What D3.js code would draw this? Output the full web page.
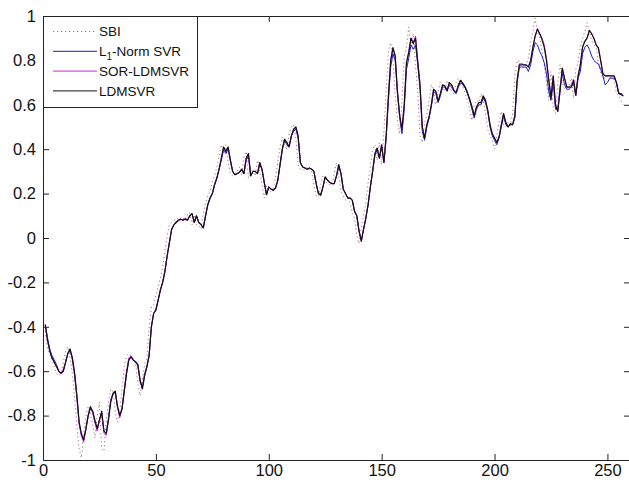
<!DOCTYPE html>
<html>
<head>
<meta charset="utf-8">
<script src="https://cdn.jsdelivr.net/npm/d3@7"></script>
<style>
  html, body { margin: 0; padding: 0; background: #fff; }
  svg { display: block; }
  text { font-family: "Liberation Sans", Arial, Helvetica, sans-serif; }
</style>
</head>
<body>
<svg id="chart" width="629" height="484"></svg>
<script>
// Series names shown in the legend
const seriesNames = ["SBI", "L1-Norm SVR", "SOR-LDMSVR", "LDMSVR"];

// Observed index (SBI), one value per trading day
const sbi = [
  -0.42,-0.50,-0.52,-0.55,-0.58,-0.61,-0.62,-0.61,-0.56,-0.51,
  -0.49,-0.54,-0.61,-0.72,-0.85,-0.95,-0.99,-0.88,-0.80,-0.76,
  -0.79,-0.84,-0.90,-0.80,-0.74,-0.95,-0.96,-0.82,-0.74,-0.68,
  -0.69,-0.78,-0.83,-0.78,-0.68,-0.58,-0.53,-0.52,-0.53,-0.545,
  -0.56,-0.66,-0.71,-0.64,-0.57,-0.54,-0.40,-0.31,-0.30,-0.26,
  -0.22,-0.18,-0.13,-0.06,0.01,0.06,0.07,0.08,0.085,0.09,
  0.08,0.09,0.08,0.105,0.115,0.06,0.105,0.06,0.055,0.04,
  0.11,0.16,0.19,0.21,0.25,0.28,0.32,0.37,0.42,0.38,
  0.42,0.34,0.29,0.28,0.29,0.30,0.32,0.28,0.37,0.39,
  0.27,0.31,0.30,0.28,0.35,0.30,0.24,0.18,0.235,0.215,
  0.21,0.225,0.27,0.34,0.41,0.455,0.42,0.40,0.47,0.50,
  0.51,0.45,0.33,0.31,0.31,0.305,0.32,0.305,0.30,0.235,
  0.19,0.185,0.24,0.28,0.255,0.245,0.24,0.24,0.29,0.34,
  0.28,0.21,0.19,0.17,0.18,0.16,0.11,0.09,0.01,-0.025,
  0.05,0.10,0.16,0.25,0.32,0.40,0.42,0.35,0.43,0.33,
  0.48,0.67,0.84,0.88,0.81,0.64,0.53,0.47,0.62,0.82,
  0.86,0.95,0.88,0.92,0.78,0.66,0.46,0.43,0.52,0.55,
  0.62,0.69,0.66,0.60,0.66,0.70,0.68,0.66,0.71,0.69,
  0.66,0.65,0.70,0.72,0.69,0.68,0.65,0.62,0.58,0.53,
  0.60,0.62,0.61,0.65,0.62,0.56,0.49,0.46,0.44,0.40,
  0.46,0.52,0.57,0.51,0.50,0.52,0.505,0.56,0.73,0.80,
  0.795,0.79,0.78,0.78,0.81,0.88,0.93,0.99,0.93,0.90,
  0.84,0.78,0.70,0.62,0.75,0.58,0.56,0.69,0.78,0.70,
  0.67,0.68,0.69,0.72,0.63,0.76,0.79,0.86,0.90,0.93,
  0.97,0.93,0.89,0.87,0.86,0.79,0.74,0.72,0.72,0.73,
  0.72,0.725,0.71,0.65,0.64,0.62,0.60
];

// L1-Norm SVR forecast
const l1NormSvr = [
  -0.39,-0.45,-0.50,-0.53,-0.55,-0.57,-0.60,-0.61,-0.60,-0.56,
  -0.52,-0.51,-0.54,-0.61,-0.71,-0.83,-0.89,-0.91,-0.86,-0.80,
  -0.77,-0.78,-0.83,-0.86,-0.82,-0.79,-0.87,-0.88,-0.81,-0.73,
  -0.70,-0.69,-0.76,-0.80,-0.77,-0.69,-0.61,-0.55,-0.535,-0.55,
  -0.555,-0.57,-0.64,-0.68,-0.62,-0.58,-0.53,-0.40,-0.34,-0.325,
  -0.28,-0.235,-0.20,-0.15,-0.08,-0.02,0.04,0.06,0.07,0.08,
  0.085,0.08,0.085,0.08,0.10,0.11,0.07,0.10,0.07,0.06,
  0.045,0.10,0.15,0.18,0.20,0.24,0.27,0.31,0.35,0.40,
  0.38,0.40,0.35,0.30,0.285,0.29,0.295,0.31,0.29,0.35,
  0.37,0.28,0.30,0.30,0.29,0.33,0.31,0.25,0.195,0.23,
  0.22,0.215,0.225,0.26,0.33,0.40,0.44,0.42,0.41,0.46,
  0.48,0.49,0.45,0.34,0.32,0.315,0.31,0.315,0.31,0.30,
  0.245,0.20,0.19,0.23,0.275,0.26,0.25,0.245,0.245,0.28,
  0.32,0.29,0.22,0.20,0.18,0.18,0.17,0.12,0.10,0.03,
  -0.01,0.04,0.09,0.15,0.23,0.30,0.37,0.40,0.36,0.41,
  0.34,0.45,0.62,0.77,0.83,0.80,0.65,0.54,0.47,0.58,
  0.76,0.81,0.87,0.85,0.87,0.78,0.67,0.48,0.44,0.50,
  0.54,0.59,0.66,0.65,0.61,0.64,0.68,0.68,0.66,0.69,
  0.68,0.66,0.65,0.68,0.70,0.69,0.675,0.65,0.62,0.58,
  0.54,0.58,0.60,0.60,0.63,0.61,0.57,0.50,0.46,0.44,
  0.42,0.45,0.50,0.55,0.51,0.50,0.51,0.51,0.54,0.70,
  0.77,0.77,0.77,0.77,0.75,0.78,0.84,0.88,0.87,0.84,
  0.82,0.79,0.74,0.66,0.62,0.70,0.58,0.58,0.68,0.74,
  0.69,0.67,0.67,0.68,0.70,0.64,0.72,0.75,0.83,0.86,
  0.87,0.85,0.82,0.80,0.79,0.785,0.76,0.73,0.69,0.70,
  0.72,0.72,0.72,0.70,0.65,0.645,0.64
];

// SOR-LDMSVR forecast
const sorLdmsvr = [
  -0.39,-0.46,-0.51,-0.54,-0.56,-0.58,-0.60,-0.61,-0.59,-0.56,
  -0.52,-0.50,-0.55,-0.62,-0.72,-0.84,-0.89,-0.92,-0.86,-0.80,
  -0.76,-0.79,-0.83,-0.87,-0.82,-0.79,-0.88,-0.89,-0.82,-0.73,
  -0.70,-0.70,-0.76,-0.81,-0.77,-0.68,-0.60,-0.54,-0.53,-0.55,
  -0.56,-0.57,-0.65,-0.67,-0.61,-0.58,-0.53,-0.40,-0.34,-0.32,
  -0.28,-0.23,-0.20,-0.15,-0.08,-0.02,0.04,0.06,0.075,0.08,
  0.085,0.08,0.09,0.08,0.10,0.11,0.07,0.10,0.07,0.06,
  0.045,0.10,0.15,0.18,0.20,0.24,0.27,0.31,0.36,0.41,
  0.39,0.41,0.35,0.30,0.285,0.29,0.30,0.31,0.29,0.36,
  0.38,0.28,0.30,0.30,0.29,0.34,0.31,0.25,0.195,0.23,
  0.22,0.215,0.225,0.26,0.33,0.40,0.445,0.43,0.41,0.46,
  0.49,0.50,0.46,0.34,0.32,0.315,0.31,0.315,0.31,0.30,
  0.245,0.20,0.195,0.23,0.275,0.26,0.25,0.245,0.245,0.28,
  0.33,0.29,0.22,0.20,0.18,0.18,0.17,0.12,0.10,0.03,
  -0.015,0.04,0.09,0.15,0.23,0.30,0.38,0.405,0.36,0.42,
  0.34,0.46,0.64,0.80,0.86,0.82,0.66,0.55,0.49,0.60,
  0.79,0.84,0.90,0.88,0.91,0.80,0.69,0.50,0.45,0.51,
  0.545,0.60,0.67,0.66,0.615,0.65,0.69,0.685,0.665,0.70,
  0.69,0.665,0.655,0.69,0.71,0.70,0.68,0.655,0.625,0.59,
  0.55,0.59,0.61,0.61,0.64,0.62,0.575,0.51,0.47,0.45,
  0.43,0.455,0.51,0.56,0.52,0.50,0.515,0.51,0.55,0.71,
  0.785,0.785,0.78,0.78,0.77,0.80,0.86,0.91,0.945,0.92,
  0.90,0.87,0.81,0.72,0.64,0.73,0.60,0.57,0.66,0.765,
  0.72,0.68,0.68,0.69,0.715,0.645,0.73,0.78,0.86,0.89,
  0.90,0.935,0.92,0.90,0.87,0.86,0.80,0.74,0.73,0.73,
  0.73,0.73,0.73,0.70,0.655,0.65,0.64
];

// LDMSVR forecast
const ldmsvr = [
  -0.39,-0.46,-0.51,-0.54,-0.56,-0.58,-0.60,-0.61,-0.60,-0.56,
  -0.52,-0.50,-0.54,-0.61,-0.71,-0.83,-0.88,-0.91,-0.86,-0.80,
  -0.76,-0.78,-0.82,-0.86,-0.82,-0.78,-0.87,-0.88,-0.82,-0.74,
  -0.70,-0.69,-0.76,-0.80,-0.77,-0.69,-0.61,-0.55,-0.535,-0.55,
  -0.56,-0.57,-0.64,-0.68,-0.62,-0.58,-0.53,-0.40,-0.34,-0.325,
  -0.28,-0.235,-0.20,-0.15,-0.08,-0.02,0.04,0.06,0.07,0.08,
  0.085,0.08,0.085,0.08,0.10,0.11,0.07,0.10,0.07,0.06,
  0.045,0.10,0.15,0.18,0.20,0.24,0.27,0.31,0.36,0.41,
  0.39,0.41,0.35,0.30,0.285,0.29,0.295,0.31,0.29,0.36,
  0.38,0.28,0.30,0.30,0.29,0.34,0.31,0.25,0.195,0.23,
  0.22,0.215,0.225,0.26,0.33,0.40,0.445,0.43,0.41,0.46,
  0.49,0.50,0.46,0.34,0.32,0.315,0.31,0.315,0.31,0.30,
  0.245,0.20,0.195,0.23,0.275,0.26,0.25,0.245,0.245,0.28,
  0.33,0.29,0.22,0.20,0.18,0.18,0.17,0.12,0.10,0.03,
  -0.015,0.04,0.09,0.15,0.23,0.30,0.38,0.405,0.36,0.42,
  0.34,0.46,0.64,0.80,0.855,0.82,0.66,0.55,0.49,0.60,
  0.79,0.835,0.90,0.875,0.90,0.79,0.69,0.50,0.45,0.51,
  0.545,0.60,0.67,0.66,0.615,0.65,0.69,0.685,0.665,0.70,
  0.69,0.665,0.655,0.69,0.71,0.695,0.68,0.655,0.625,0.59,
  0.55,0.59,0.61,0.61,0.64,0.62,0.575,0.51,0.47,0.45,
  0.43,0.455,0.51,0.56,0.52,0.50,0.515,0.51,0.55,0.71,
  0.78,0.78,0.78,0.78,0.77,0.80,0.86,0.91,0.94,0.92,
  0.895,0.86,0.80,0.71,0.63,0.73,0.60,0.57,0.66,0.765,
  0.72,0.68,0.68,0.68,0.71,0.645,0.73,0.78,0.86,0.885,
  0.90,0.935,0.92,0.90,0.87,0.855,0.80,0.74,0.73,0.73,
  0.73,0.73,0.73,0.70,0.65,0.65,0.64
];

// Axis ticks
const xTicks = [0, 50, 100, 150, 200, 250];
const yTicks = [-1, -0.8, -0.6, -0.4, -0.2, 0, 0.2, 0.4, 0.6, 0.8, 1];

const svg = d3.select("#chart");
const W = 629, H = 484;
const plot = { left: 43, right: 630, top: 16, bottom: 460 };

svg.append("rect").attr("width", W).attr("height", H).attr("fill", "#fff");

const x = d3.scaleLinear().domain([0, 260]).range([plot.left, plot.right]);
const y = d3.scaleLinear().domain([-1, 1]).range([plot.bottom, plot.top]);

const fmt = d => String(+d.toFixed(1));

// Lines: drawn first so the axes box sits on top
const line = d3.line().x((d, i) => x(i + 1)).y(d => y(d));

const series = [
  { name: seriesNames[0], values: sbi,       color: "#a07a70", dash: "1.2,2.8", width: 1 },
  { name: seriesNames[1], values: l1NormSvr, color: "#1c1cc8", dash: null,      width: 1 },
  { name: seriesNames[2], values: sorLdmsvr, color: "#e020e0", dash: null,      width: 1 },
  { name: seriesNames[3], values: ldmsvr,    color: "#111111", dash: null,      width: 1.2 }
];

const lines = svg.append("g");
series.forEach(s => {
  lines.append("path")
    .datum(s.values)
    .attr("d", line)
    .attr("fill", "none")
    .attr("stroke", s.color)
    .attr("stroke-width", s.width)
    .attr("stroke-dasharray", s.dash)
    .attr("stroke-linejoin", "round");
});

// Axes with inward ticks on all four sides
const axisColor = "#222";
function styleAxis(g) {
  g.select(".domain").remove();
  g.selectAll(".tick line").attr("stroke", axisColor);
  g.selectAll(".tick text").attr("fill", "#111").attr("font-size", 16.5)
    .attr("font-family", "'Liberation Sans', Arial, sans-serif");
}

svg.append("g")
  .attr("transform", `translate(0,${plot.bottom})`)
  .call(d3.axisBottom(x).tickValues(xTicks).tickFormat(fmt).tickSizeInner(-6).tickSizeOuter(0).tickPadding(4))
  .call(styleAxis);

svg.append("g")
  .attr("transform", `translate(0,${plot.top})`)
  .call(d3.axisTop(x).tickValues(xTicks).tickFormat("").tickSizeInner(-6).tickSizeOuter(0))
  .call(styleAxis);

svg.append("g")
  .attr("transform", `translate(${plot.left},0)`)
  .call(d3.axisLeft(y).tickValues(yTicks).tickFormat(fmt).tickSizeInner(-6).tickSizeOuter(0).tickPadding(7))
  .call(styleAxis);

svg.append("g")
  .attr("transform", `translate(${plot.right},0)`)
  .call(d3.axisRight(y).tickValues(yTicks).tickFormat("").tickSizeInner(-6).tickSizeOuter(0))
  .call(styleAxis);

svg.append("rect")
  .attr("x", plot.left + 0.5).attr("y", plot.top + 0.5)
  .attr("width", plot.right - plot.left).attr("height", plot.bottom - plot.top)
  .attr("fill", "none").attr("stroke", axisColor).attr("stroke-width", 1);

// Legend in the upper-left corner
const lg = svg.append("g");
lg.append("rect")
  .attr("x", plot.left + 0.5).attr("y", plot.top + 0.5)
  .attr("width", 154).attr("height", 91)
  .attr("fill", "#fff").attr("stroke", axisColor).attr("stroke-width", 1);

series.forEach((s, i) => {
  const cy = 31.5 + i * 19.8;
  lg.append("line")
    .attr("x1", 53).attr("x2", 97)
    .attr("y1", cy).attr("y2", cy)
    .attr("stroke", s.color)
    .attr("stroke-width", 1)
    .attr("stroke-dasharray", s.dash);
  const t = lg.append("text")
    .attr("x", 99).attr("y", cy)
    .attr("dy", "0.35em")
    .attr("font-size", 13.5)
    .attr("fill", "#111");
  if (s.name.startsWith("L1")) {
    t.append("tspan").text("L");
    t.append("tspan").attr("font-size", 10).attr("dy", "0.4em").text("1");
    t.append("tspan").attr("dy", "-0.3em").text(s.name.slice(2));
  } else {
    t.text(s.name);
  }
});
</script>
</body>
</html>
